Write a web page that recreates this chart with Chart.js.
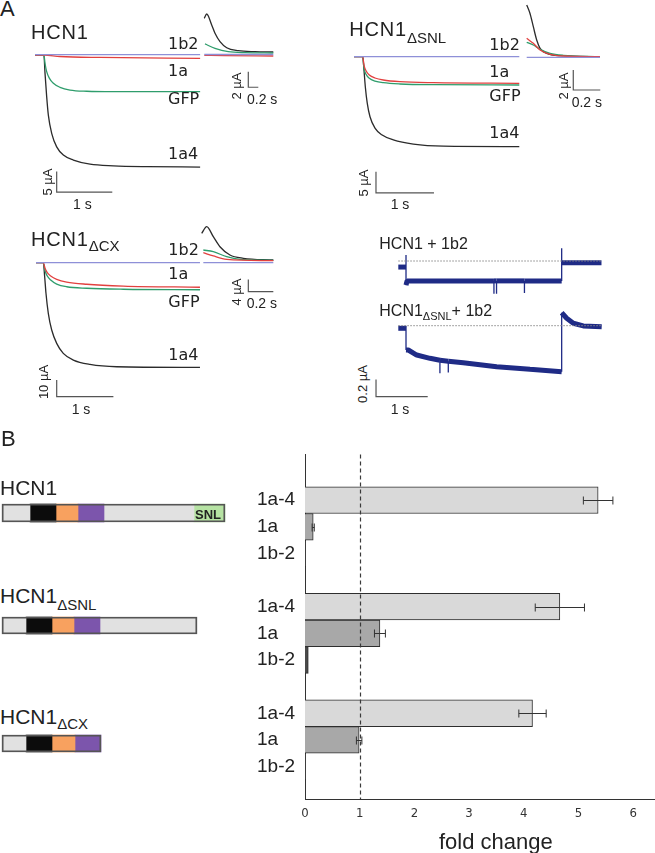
<!DOCTYPE html>
<html><head><meta charset="utf-8">
<script src="https://cdn.jsdelivr.net/npm/chart.js@4.4.1/dist/chart.umd.min.js"></script>
<style>
html,body{margin:0;padding:0;background:#fff;}
#fig{position:relative;width:655px;height:853px;overflow:hidden;font-family:"Liberation Sans",Arial,sans-serif;color:#222;}
#fig canvas{position:absolute;}
.t{position:absolute;line-height:1;white-space:nowrap;}
.r{position:absolute;line-height:1;white-space:nowrap;transform:translate(-50%,-50%) rotate(-90deg);}
.d{font-family:"DejaVu Sans",Verdana,sans-serif;}
</style></head><body><div id="fig"></div>
<script>
// ---------------- DATA ----------------
// Panel B: fold change of current
const constructs = ['HCN1', 'HCN1ΔSNL', 'HCN1ΔCX'];
const subunits = ['1a-4', '1a', '1b-2'];
const fold1a4 = [5.36, 4.66, 4.16];
const err1a4  = [0.27, 0.45, 0.25];
const fold1a  = [0.15, 1.37, 0.99];
const err1a   = [0.02, 0.10, 0.05];
const fold1b2 = [0.01, 0.06, 0.01];
const err1b2  = [0, 0, 0];
const foldTicks = [0, 1, 2, 3, 4, 5, 6];
const foldRef = 1;

// Panel B: channel schematics (domain boundaries, arbitrary length units)
const domainNames = ['N-term', 'TM', 'C-linker', 'CNBD', 'C-term', 'SNL'];
const schemHCN1 = [0, 28, 54, 76, 102, 192, 223];
const schemSNL  = [0, 24, 50, 72, 98, 195];
const schemCX   = [0, 24, 50, 73, 99];

// Panel A traces: [time (s), current (µA)]
const hcn1_1a4 = [[0,0],[0.16,0],[0.18,-4.4],[0.21,-10.1],[0.24,-14.6],[0.30,-19.0],[0.39,-22.3],[0.51,-24.3],[0.69,-25.5],[0.99,-26.5],[1.41,-26.9],[2.01,-27.1],[2.97,-27.2]];
const hcn1_gfp = [[0,0],[0.16,0],[0.18,-2.0],[0.21,-4.05],[0.26,-5.66],[0.33,-6.87],[0.45,-7.84],[0.63,-8.5],[0.93,-8.8],[1.41,-8.9],[2.97,-8.9]];
const hcn1_1a  = [[0,0],[0.16,0],[0.45,-0.36],[1.17,-0.6],[2.97,-0.8]];
const hcn1_1b2 = [[0,0.1],[2.97,0.1]];
// tail insets
const hcn1Tail_1a4 = [[0,4.64],[0.048,5.19],[0.148,3.78],[0.214,2.72],[0.314,1.65],[0.448,0.87],[0.68,0.49],[1.014,0.36],[1.38,0.32]];
const hcn1Tail_gfp = [[0.014,1.35],[0.214,0.79],[0.48,0.36],[0.814,0.23],[1.38,0.19]];
const hcn1Tail_1a  = [[0,-0.1],[0.4,-0.15],[1.38,-0.19]];
const hcn1Tail_1b2 = [[0,0],[1.38,0]];

const snl_1a4 = [[0,0],[0.15,0],[0.172,-3.17],[0.195,-7.14],[0.229,-11.1],[0.276,-14.3],[0.362,-17.0],[0.478,-18.6],[0.678,-19.8],[1.023,-20.8],[1.54,-21.3],[2.85,-21.4]];
const snl_1a  = [[0,0],[0.15,0],[0.172,-1.98],[0.207,-3.33],[0.264,-4.36],[0.362,-5.07],[0.505,-5.55],[0.793,-5.95],[1.368,-6.19],[2.85,-6.33]];
const snl_gfp = [[0,0],[0.15,0],[0.172,-2.76],[0.207,-4.19],[0.264,-5.14],[0.362,-5.79],[0.505,-6.19],[0.793,-6.5],[1.368,-6.67],[2.85,-6.74]];
const snl_1b2 = [[0,0],[2.85,0]];
const snlTail_1a4 = [[0,5.23],[0.024,4.4],[0.049,3.06],[0.074,1.73],[0.099,0.9],[0.148,0.4],[0.247,0.16],[0.543,0.06]];
const snlTail_1a  = [[0,1.9],[0.049,1.4],[0.099,0.73],[0.173,0.3],[0.271,0.13],[0.543,0.06]];
const snlTail_gfp = [[0,1.5],[0.049,1.23],[0.099,0.8],[0.173,0.4],[0.271,0.2],[0.543,0.06]];
const snlTail_1b2 = [[0,0],[0.543,0]];

const cx_1a4 = [[0,0],[0.129,0],[0.153,-8.4],[0.176,-18.3],[0.217,-30.3],[0.277,-40.3],[0.365,-48.3],[0.481,-54.3],[0.658,-58.3],[0.952,-60.9],[1.423,-62.3],[2.892,-62.7]];
const cx_1a  = [[0,0],[0.129,0],[0.159,-3.35],[0.199,-6.0],[0.259,-7.96],[0.365,-9.94],[0.541,-11.6],[0.894,-12.9],[1.54,-14.0],[2.892,-14.7]];
const cx_gfp = [[0,0],[0.129,0],[0.159,-4.8],[0.199,-7.96],[0.259,-10.4],[0.365,-12.8],[0.541,-14.4],[0.894,-15.3],[1.54,-15.9],[2.892,-16.2]];
const cx_1b2 = [[0,0],[2.892,0]];
const cxTail_1a4 = [[0,9.55],[0.04,11.7],[0.093,8.44],[0.146,5.19],[0.226,2.5],[0.333,1.43],[0.573,0.88]];
const cxTail_gfp = [[0.013,4.12],[0.093,3.57],[0.2,1.95],[0.306,1.1],[0.573,0.78]];
const cxTail_1a  = [[0.013,3.25],[0.093,2.18],[0.2,1.1],[0.573,0.65]];
const cxTail_1b2 = [[0.013,0],[0.573,0]];

// single-channel-like recordings with 1b2
const rec_hcn1_1b2 = [[0,-0.07],[0.149,-0.07],[0.149,0.07],[0.149,-0.28],[0.17,-0.23],[0.6,-0.23],[1.2,-0.23],[1.85,-0.23],[1.85,-0.38],[1.85,-0.23],[1.9,-0.23],[1.9,-0.38],[1.9,-0.23],[2.44,-0.23],[2.44,-0.37],[2.44,-0.23],[3.16,-0.23],[3.16,0.147],[3.16,-0.02],[3.93,-0.02]];
const rec_snl_1b2 = [[0,-0.03],[0.149,-0.03],[0.149,0.0],[0.149,-0.28],[0.193,-0.281],[0.356,-0.339],[0.613,-0.377],[0.805,-0.40],[0.805,-0.55],[0.805,-0.40],[0.967,-0.41],[0.967,-0.54],[0.967,-0.41],[1.257,-0.428],[1.903,-0.474],[2.547,-0.504],[3.16,-0.532],[3.16,0.15],[3.257,0.086],[3.385,0.028],[3.578,-0.003],[3.934,-0.012]];
const rec_zero = [[0,0],[3.934,0]];

// ---------------- HELPERS ----------------
const fig = document.getElementById('fig');
Chart.defaults.font.family = '"Liberation Sans", Arial, sans-serif';
Chart.defaults.animation = false;

function mkCanvas(l, t, w, h) {
  const c = document.createElement('canvas');
  c.width = w; c.height = h;
  c.style.left = l + 'px'; c.style.top = t + 'px';
  c.style.width = w + 'px'; c.style.height = h + 'px';
  fig.appendChild(c);
  return c;
}
function txt(html, x, cy, size, cls, extra) {
  const d = document.createElement('div');
  d.className = 't' + (cls ? ' ' + cls : '');
  d.innerHTML = html;
  d.style.left = x + 'px';
  d.style.top = (cy - 0.487 * size) + 'px';
  d.style.fontSize = size + 'px';
  if (extra) Object.assign(d.style, extra);
  fig.appendChild(d);
}
function rtxt(html, cx, cy, size) {
  const d = document.createElement('div');
  d.className = 'r';
  d.innerHTML = html;
  d.style.left = cx + 'px'; d.style.top = cy + 'px'; d.style.fontSize = size + 'px';
  fig.appendChild(d);
}

const scaleBar = {
  id: 'scalebar',
  afterDraw(chart, args, o) {
    if (!o || o.dt == null) return;
    const {ctx, scales: {x, y}} = chart;
    const x1 = x.getPixelForValue(o.t), y1 = y.getPixelForValue(o.i);
    const x2 = x.getPixelForValue(o.t + o.dt), y2 = y.getPixelForValue(o.i + o.di);
    ctx.save();
    ctx.strokeStyle = '#555'; ctx.lineWidth = 1.2;
    ctx.beginPath(); ctx.moveTo(x1, y2); ctx.lineTo(x1, y1); ctx.lineTo(x2, y1); ctx.stroke();
    ctx.restore();
  }
};

const COL = {k: '#2b2b2b', g: '#2f9d6c', r: '#e2403f', b: '#8e90d8', navy: '#1f2b86'};

function traceSet(pts, color, extra) {
  return Object.assign({
    data: pts.map(([t, i]) => ({x: t, y: i})),
    borderColor: color, borderWidth: 1.3, pointRadius: 0, showLine: true,
    cubicInterpolationMode: 'monotone', fill: false
  }, extra || {});
}

function traceChart(box, map, sets, bar) {
  const c = mkCanvas(box.l, box.t, box.w, box.h);
  const xmin = (box.l - map.x0) / map.sx, xmax = (box.l + box.w - map.x0) / map.sx;
  const ymax = (map.y0 - box.t) / map.sy, ymin = (map.y0 - box.t - box.h) / map.sy;
  return new Chart(c, {
    type: 'scatter',
    data: {datasets: sets},
    options: {
      responsive: false, animation: false, events: [],
      layout: {padding: 0, autoPadding: false},
      plugins: {legend: {display: false}, tooltip: {enabled: false}, scalebar: bar || {}},
      scales: {
        x: {type: 'linear', display: false, min: xmin, max: xmax},
        y: {type: 'linear', display: false, min: ymin, max: ymax}
      }
    },
    plugins: [scaleBar]
  });
}

// ---------------- PANEL A ----------------
traceChart({l: 28, t: 36, w: 180, h: 162}, {x0: 35, sx: 55.6, y0: 55, sy: 4.12},
  [traceSet(hcn1_1b2, COL.b), traceSet(hcn1_1a, COL.r), traceSet(hcn1_gfp, COL.g), traceSet(hcn1_1a4, COL.k)],
  {t: 0.39, i: -33.3, dt: 1, di: 5});
traceChart({l: 198, t: 4, w: 82, h: 90}, {x0: 204.3, sx: 50, y0: 54.5, sy: 7.8},
  [traceSet(hcn1Tail_1b2, COL.b), traceSet(hcn1Tail_1a, COL.r), traceSet(hcn1Tail_gfp, COL.g), traceSet(hcn1Tail_1a4, COL.k)],
  {t: 0.88, i: -4.2, dt: 0.2, di: 2});

traceChart({l: 348, t: 40, w: 178, h: 160}, {x0: 354, sx: 58, y0: 56.7, sy: 4.2},
  [traceSet(snl_1b2, COL.b), traceSet(snl_1a, COL.r), traceSet(snl_gfp, COL.g), traceSet(snl_1a4, COL.k)],
  {t: 0.379, i: -32.4, dt: 1, di: 5});
traceChart({l: 520, t: 0, w: 90, h: 95}, {x0: 526.7, sx: 135, y0: 57.3, sy: 10},
  [traceSet(snlTail_1b2, COL.b), traceSet(snlTail_1a, COL.r), traceSet(snlTail_gfp, COL.g), traceSet(snlTail_1a4, COL.k)],
  {t: 0.345, i: -3.27, dt: 0.2, di: 2});

traceChart({l: 28, t: 250, w: 180, h: 152}, {x0: 36, sx: 56.7, y0: 262.7, sy: 1.67},
  [traceSet(cx_1b2, COL.b), traceSet(cx_1a, COL.r), traceSet(cx_gfp, COL.g), traceSet(cx_1a4, COL.k)],
  {t: 0.365, i: -80.2, dt: 1, di: 10});
traceChart({l: 196, t: 220, w: 84, h: 76}, {x0: 201.7, sx: 125, y0: 262.7, sy: 3.08},
  [traceSet(cxTail_1b2, COL.b), traceSet(cxTail_1a, COL.r), traceSet(cxTail_gfp, COL.g), traceSet(cxTail_1a4, COL.k)],
  {t: 0.373, i: -9.42, dt: 0.2, di: 4});

function recSet(pts) {
  return traceSet(pts, COL.navy, {
    cubicInterpolationMode: 'default', tension: 0, borderJoinStyle: 'bevel',
    segment: {borderWidth: ctx => (ctx.p0.parsed.x === ctx.p1.parsed.x ? 1.3 : 5)}
  });
}
function zeroSet() {
  return traceSet(rec_zero, '#888', {borderWidth: 1, borderDash: [1.5, 1.5], cubicInterpolationMode: 'default', tension: 0});
}
traceChart({l: 370, t: 240, w: 240, h: 60}, {x0: 398.3, sx: 51.7, y0: 261, sy: 86.5},
  [zeroSet(), recSet(rec_hcn1_1b2)]);
traceChart({l: 370, t: 300, w: 240, h: 102}, {x0: 398.3, sx: 51.7, y0: 325.7, sy: 86.5},
  [zeroSet(), recSet(rec_snl_1b2)],
  {t: -0.431, i: -0.821, dt: 1, di: 0.2});

// Panel A texts
txt('A', 0, 9, 22);
txt('HCN1', 31, 32, 20, '', {letterSpacing: '0.8px'});
[['1b2', 43.8], ['1a', 70.5], ['GFP', 98.7], ['1a4', 153.8]].forEach(([s, y]) => txt(s, 168, y, 16, 'd'));
rtxt('5 µA', 46.7, 182, 13); txt('1 s', 73, 204, 14);
rtxt('2 µA', 236, 86, 13); txt('0.2 s', 247, 99, 14);

txt('HCN1<span style="font-size:15px;vertical-align:-7px;letter-spacing:0">ΔSNL</span>', 349.3, 29.2, 20, '', {letterSpacing: '0.8px'});
[['1b2', 45], ['1a', 72], ['GFP', 96.2], ['1a4', 132.8]].forEach(([s, y]) => txt(s, 489.3, y, 16, 'd'));
rtxt('2 µA', 563, 86, 13); txt('0.2 s', 571.7, 101.7, 14);
rtxt('5 µA', 363, 182.7, 13); txt('1 s', 390.7, 204, 14);

txt('HCN1<span style="font-size:15px;vertical-align:-5px;letter-spacing:0">ΔCX</span>', 31, 238.3, 20, '', {letterSpacing: '0.8px'});
[['1b2', 250], ['1a', 273.8], ['GFP', 301.7], ['1a4', 354.7]].forEach(([s, y]) => txt(s, 168.3, y, 16, 'd'));
rtxt('10 µA', 43, 382, 13); txt('1 s', 71.7, 409.3, 14);
rtxt('4 µA', 236, 292, 13); txt('0.2 s', 246.7, 303.3, 14);

txt('HCN1 + 1b2', 379.3, 243.3, 16);
txt('HCN1<span style="font-size:11px;vertical-align:-4px">ΔSNL</span>+ 1b2', 379.3, 310.8, 16);
rtxt('0.2 µA', 362.3, 384, 13); txt('1 s', 390.7, 409.3, 14);

// ---------------- PANEL B: schematics ----------------
const domainColors = ['#e1e1e1', '#0c0c0c', '#f8a15f', '#7c55ac', '#e1e1e1', '#b6e3a3'];
function schematic(bounds, top, h) {
  const c = mkCanvas(0, top - 2, 240, h + 4);
  const total = bounds[bounds.length - 1];
  const sets = [{
    label: 'outline', data: [[0, total]], backgroundColor: 'rgba(0,0,0,0)',
    borderColor: '#555', borderWidth: 1.2, borderSkipped: false, grouped: false, barThickness: h
  }];
  for (let k = 0; k < bounds.length - 1; k++) {
    sets.push({label: domainNames[k], data: [[bounds[k], bounds[k + 1]]], backgroundColor: domainColors[k],
      borderWidth: 0, grouped: false, barThickness: h});
  }
  new Chart(c, {
    type: 'bar',
    data: {labels: ['row'], datasets: sets},
    options: {
      indexAxis: 'y', responsive: false, animation: false, events: [],
      layout: {padding: 0, autoPadding: false},
      plugins: {legend: {display: false}, tooltip: {enabled: false}},
      scales: {
        x: {type: 'linear', display: false, min: -2, max: 238},
        y: {type: 'category', display: false}
      }
    }
  });
}
schematic(schemHCN1, 504, 18);
schematic(schemSNL, 617, 17);
schematic(schemCX, 735, 17);

txt('B', 1, 439, 22);
txt('HCN1', 0, 487, 21);
txt('<b>SNL</b>', 195, 514.7, 13);
txt('HCN1<span style="font-size:15px;vertical-align:-6.5px">ΔSNL</span>', 0, 595.3, 21);
txt('HCN1<span style="font-size:15px;vertical-align:-5px">ΔCX</span>', 0, 715.8, 21);

// ---------------- PANEL B: bar chart ----------------
const seriesVals = [fold1a4, fold1a, fold1b2];
const seriesErr = [err1a4, err1a, err1b2];
const slot = (g, s) => 1 + 4 * g + s;
const slotVals = [];
const slotLabel = {};
constructs.forEach((c, g) => subunits.forEach((n, s) => { slotVals.push(slot(g, s)); slotLabel[slot(g, s)] = n; }));
const barFills = ['#d9d9d9', '#a8a8a8', '#4a4a4a'];

const barExtras = {
  id: 'barExtras',
  afterDatasetsDraw(chart) {
    const {ctx, chartArea, scales: {x, y}} = chart;
    ctx.save();
    ctx.strokeStyle = '#3a3a3a'; ctx.lineWidth = 1.2; ctx.setLineDash([4, 3]);
    const rx = Math.round(x.getPixelForValue(foldRef)) + 0.5;
    ctx.beginPath(); ctx.moveTo(rx, chartArea.top); ctx.lineTo(rx, chartArea.bottom); ctx.stroke();
    ctx.setLineDash([]); ctx.lineWidth = 1; ctx.strokeStyle = '#333';
    seriesVals.forEach((vals, s) => vals.forEach((v, g) => {
      const e = seriesErr[s][g]; if (!e) return;
      const py = Math.round(y.getPixelForValue(slot(g, s))) + 0.5;
      const a = x.getPixelForValue(v - e), b = x.getPixelForValue(v + e);
      ctx.beginPath(); ctx.moveTo(a, py); ctx.lineTo(b, py);
      ctx.moveTo(a, py - 4); ctx.lineTo(a, py + 4); ctx.moveTo(b, py - 4); ctx.lineTo(b, py + 4);
      ctx.stroke();
    }));
    ctx.restore();
  }
};

new Chart(mkCanvas(240, 440, 415, 413), {
  type: 'bar',
  data: {
    datasets: subunits.map((name, s) => ({
      label: name,
      data: constructs.map((c, g) => ({x: seriesVals[s][g], y: slot(g, s)})),
      backgroundColor: barFills[s], borderColor: '#2e2e2e', borderWidth: 1,
      grouped: false, categoryPercentage: 1, barPercentage: 1
    }))
  },
  options: {
    indexAxis: 'y', responsive: false, animation: false, events: [],
    layout: {padding: {left: 17, top: 10, right: 0, bottom: 0}, autoPadding: false},
    plugins: {legend: {display: false}, tooltip: {enabled: false}},
    scales: {
      x: {
        type: 'linear', min: 0, max: 6.4,
        afterBuildTicks: sc => { sc.ticks = foldTicks.map(v => ({value: v})); },
        afterFit: sc => { sc.height = 54; },
        grid: {display: false, drawTicks: false},
        border: {display: true, color: '#333', width: 1},
        ticks: {padding: 7, color: '#333', font: {family: '"Liberation Sans Narrow","DejaVu Sans Condensed",sans-serif', size: 13}}
      },
      y: {
        type: 'linear', min: 0, max: 11.5, reverse: true,
        afterBuildTicks: sc => { sc.ticks = slotVals.map(v => ({value: v})); },
        afterFit: sc => { sc.width = 48; },
        grid: {display: false, drawTicks: false},
        border: {display: true, color: '#333', width: 1},
        ticks: {crossAlign: 'far', autoSkip: false, color: '#222', font: {size: 19},
          callback: v => slotLabel[v] || ''}
      }
    }
  },
  plugins: [barExtras]
});
txt('fold change', 439, 842, 22);
</script></body></html>
